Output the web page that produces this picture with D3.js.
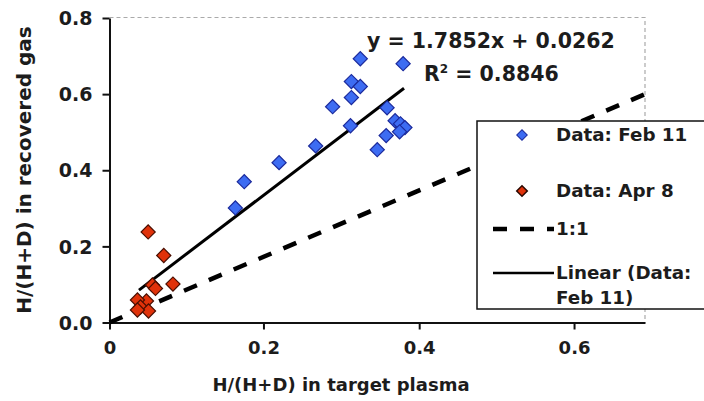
<!DOCTYPE html>
<html>
<head>
<meta charset="utf-8">
<script src="https://cdn.jsdelivr.net/npm/d3@7"></script>
<style>
  html, body { margin: 0; padding: 0; background: #fff; }
  svg { display: block; }
  text { font-family: "DejaVu Sans", Verdana, sans-serif; font-weight: bold; fill: #1c1c1c; }
</style>
</head>
<body>
<svg id="chart" width="704" height="401"></svg>
<script>
// H/(H+D) ratios: target plasma (x) vs recovered gas (y)
const feb11X = [0.281, 0.329, 0.271, 0.281, 0.271, 0.250, 0.311, 0.320, 0.326, 0.331, 0.325, 0.270, 0.310, 0.231, 0.300, 0.190, 0.151, 0.141];
const feb11Y = [0.693, 0.680, 0.633, 0.620, 0.591, 0.567, 0.564, 0.530, 0.522, 0.512, 0.501, 0.517, 0.491, 0.464, 0.454, 0.420, 0.370, 0.301];
const apr8X = [0.0433, 0.0608, 0.0711, 0.0481, 0.0515, 0.0414, 0.0313, 0.0347, 0.0437, 0.0313];
const apr8Y = [0.238, 0.176, 0.101, 0.0987, 0.0895, 0.0566, 0.0592, 0.0408, 0.0303, 0.0329];

// Linear fit of the Feb 11 series and its span along x
const fitSlope = 1.7852;
const fitIntercept = 0.0262;
const fitR2 = 0.8846;
const fitRange = [0.033, 0.33];

// Reference line y = x
const oneToOneRange = [0, 0.61];

// Axis ticks
const yTicks = [0, 0.2, 0.4, 0.6, 0.8];
const xTickValues = [0, 0.1725, 0.347, 0.5205];
const xTickLabels = ["0", "0.2", "0.4", "0.6"];

const legendLabels = ["Data: Feb 11", "Data: Apr 8", "1:1", "Linear (Data:", "Feb 11)"];

const svg = d3.select("#chart");
const x = d3.scaleLinear().domain([0, 0.6]).range([109.5, 645]);
const y = d3.scaleLinear().domain([0, 0.8]).range([322.5, 18]);

// Plot-area outline (top and right edges)
svg.append("path")
  .attr("d", `M${x(0)},${y(0.8) - 0.5}H${x(0.6)}V${y(0)}`)
  .attr("fill", "none")
  .attr("stroke", "#aaa")
  .attr("stroke-width", 1.2)
  .attr("stroke-dasharray", "4,3");

// Axes
const yAxis = d3.axisLeft(y).tickValues(yTicks).tickFormat(d3.format(".1f")).tickSize(7).tickSizeOuter(0).tickPadding(10);
const gy = svg.append("g").attr("transform", `translate(${x(0)},0)`).call(yAxis);
gy.selectAll("path, line").attr("stroke", "#111").attr("stroke-width", 2);
gy.selectAll("text").attr("font-size", 19).attr("dy", "0.35em").style("font-family", "DejaVu Sans").style("font-weight", "bold").attr("fill", "#1c1c1c");

const xAxis = d3.axisBottom(x).tickValues(xTickValues)
  .tickFormat((d, i) => xTickLabels[i]).tickSize(7).tickSizeOuter(0).tickPadding(12);
const gx = svg.append("g").attr("transform", `translate(0,${y(0)})`).call(xAxis);
gx.selectAll("path, line").attr("stroke", "#111").attr("stroke-width", 2);
gx.selectAll("text").attr("font-size", 18).style("font-family", "DejaVu Sans").style("font-weight", "bold").attr("fill", "#1c1c1c");

// Axis titles
svg.append("text")
  .attr("x", 341).attr("y", 391)
  .attr("text-anchor", "middle")
  .attr("font-size", 18)
  .text("H/(H+D) in target plasma");
svg.append("text")
  .attr("transform", `translate(31,170) rotate(-90)`)
  .attr("text-anchor", "middle")
  .attr("font-size", 20)
  .text("H/(H+D) in recovered gas");

// 1:1 line
const line = d3.line().x(d => x(d[0])).y(d => y(d[1]));
svg.append("path")
  .attr("d", line(oneToOneRange.map(v => [v, v])))
  .attr("fill", "none")
  .attr("stroke", "#000")
  .attr("stroke-width", 4.5)
  .attr("stroke-dasharray", "14,13");

// Trend line
svg.append("path")
  .attr("d", line(fitRange.map(v => [v, fitSlope * v + fitIntercept])))
  .attr("fill", "none")
  .attr("stroke", "#000")
  .attr("stroke-width", 3);

// Markers
const diamond = d3.symbol().type(d3.symbolSquare).size(100);
function drawSeries(xs, ys, fill, stroke) {
  svg.append("g").selectAll("path")
    .data(xs.map((v, i) => [v, ys[i]]))
    .join("path")
    .attr("d", diamond)
    .attr("transform", d => `translate(${x(d[0])},${y(d[1])}) rotate(45)`)
    .attr("fill", fill)
    .attr("stroke", stroke)
    .attr("stroke-width", 1.2);
}
drawSeries(feb11X, feb11Y, "#3d6cf2", "#1b2a9c");
drawSeries(apr8X, apr8Y, "#e0320a", "#4a0e00");

// Regression annotation
svg.append("text")
  .attr("x", 367).attr("y", 48)
  .attr("font-size", 20.5)
  .text(`y = ${fitSlope}x + ${fitIntercept}`);
const r2 = svg.append("text").attr("x", 424).attr("y", 81).attr("font-size", 20.5);
r2.append("tspan").text("R");
r2.append("tspan").attr("font-size", 12).attr("dy", -8).text("2");
r2.append("tspan").attr("dy", 8).text(` = ${fitR2}`);

// Legend
const lg = svg.append("g");
lg.append("rect")
  .attr("x", 477).attr("y", 121).attr("width", 240).attr("height", 188)
  .attr("fill", "#fff").attr("stroke", "#111").attr("stroke-width", 1.5);
const smallDiamond = d3.symbol().type(d3.symbolSquare).size(56);
lg.append("path").attr("d", smallDiamond)
  .attr("transform", "translate(522,135) rotate(45)")
  .attr("fill", "#3d6cf2").attr("stroke", "#1b2a9c").attr("stroke-width", 1);
lg.append("path").attr("d", smallDiamond)
  .attr("transform", "translate(522,191) rotate(45)")
  .attr("fill", "#e0320a").attr("stroke", "#2a0800").attr("stroke-width", 1.5);
lg.append("line").attr("x1", 493).attr("x2", 554).attr("y1", 229).attr("y2", 229)
  .attr("stroke", "#000").attr("stroke-width", 4.5).attr("stroke-dasharray", "14,13");
lg.append("line").attr("x1", 493).attr("x2", 554).attr("y1", 273).attr("y2", 273)
  .attr("stroke", "#000").attr("stroke-width", 2.5);
const legendY = [141, 197, 235, 279, 304];
lg.selectAll("text.lab").data(legendLabels).join("text")
  .attr("class", "lab")
  .attr("x", 556)
  .attr("y", (d, i) => legendY[i])
  .attr("font-size", 18.3)
  .text(d => d);
</script>
</body>
</html>
